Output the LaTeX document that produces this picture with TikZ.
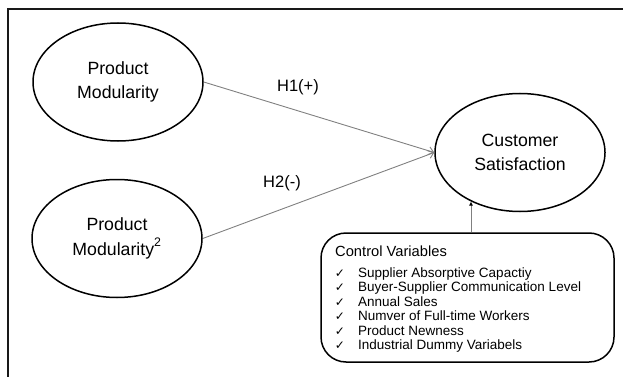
\documentclass[tikz,border=0pt]{standalone}
\usepackage{fontspec}
\setmainfont{Liberation Sans}
\newfontfamily\symfont{DejaVu Sans}
\usetikzlibrary{arrows.meta,shapes.geometric}

\begin{document}
\begin{tikzpicture}[x=1pt,y=-1pt,
  latent/.style={ellipse,draw=black,line width=1.5pt,minimum width=170pt,minimum height=118pt,
    inner sep=0pt,align=center,font=\fontsize{17.7}{24.5}\selectfont},
  hyplabel/.style={inner sep=0pt,font=\fontsize{16.5}{18}\selectfont},
  hyparrow/.style={draw=black!50,line width=0.9pt,-{Straight Barb[length=5pt,width=8pt,line width=0.9pt]}},
  ctrlarrow/.style={draw=black!50,line width=0.9pt,-{Latex[black,length=4pt,width=4pt]}},
  ctrlbox/.style={draw=black,line width=1.5pt,rounded corners=25pt,minimum width=293pt,minimum height=129pt,inner sep=0pt},
  cvtitle/.style={anchor=base west,inner sep=0pt,font=\fontsize{14.7}{16}\selectfont},
  chk/.style={anchor=base,inner sep=0pt,font=\symfont\fontsize{12}{12}\selectfont},
  cvitem/.style={anchor=base west,inner sep=0pt,font=\fontsize{13.5}{14.5}\selectfont},
  frameline/.style={draw=black!90,line width=2.2pt}
]
\useasboundingbox (0,0) rectangle (623,377);

% outer frame (only left and top edges visible)
\draw[frameline] (8,378) -- (8,9) -- (624,9);

% constructs
\node[latent] (pm1) at (118,82) {Product\\Modularity};
\node[latent] (pm2) at (117,238.5) {Product\\Modularity\raisebox{0.15em}{\textsuperscript{2}}};
\node[latent] (cs) at (520,152.5) {Customer\\Satisfaction};

% control variables box
\node[ctrlbox] (ctrl) at (467.5,297.5) {};
\node[cvtitle] (cvt) at (335,256) {Control Variables};
\foreach \t [count=\i] in {{Supplier Absorptive Capactiy},{Buyer-Supplier Communication Level},{Annual Sales},{Numver of Full-time Workers},{Product Newness},{Industrial Dummy Variabels}} {
  \node[chk] (c\i) at (340,{262.5+14.5*\i}) {✓};
  \node[cvitem] (t\i) at (358,{262.5+14.5*\i}) {\t};
}

% hypotheses
\draw[hyparrow] (pm1.east) -- (cs.west);
\draw[hyparrow] (pm2.east) -- (cs.west);
\node[hyplabel] (h1) at (298,87) {H1(+)};
\node[hyplabel] (h2) at (282,183) {H2(-)};

% control arrow
\draw[ctrlarrow] (ctrl.north -| cs.225) -- (cs.225);
\end{tikzpicture}
\end{document}
